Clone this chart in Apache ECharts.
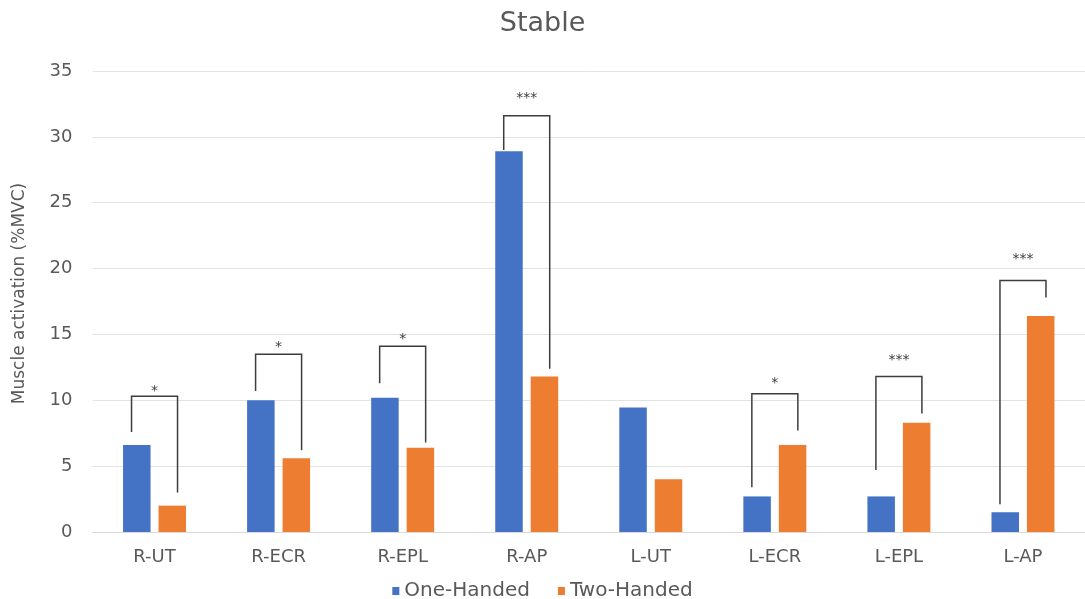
<!DOCTYPE html>
<html>
<head>
<meta charset="utf-8">
<script src="https://cdn.jsdelivr.net/npm/echarts@6/dist/echarts.min.js"></script>
<style>
html,body{margin:0;padding:0;background:#fff;}
#chart{width:1085px;height:599px;}
</style>
</head>
<body>
<div id="chart"></div>
<script>
const categories = ['R-UT','R-ECR','R-EPL','R-AP','L-UT','L-ECR','L-EPL','L-AP'];
const oneHanded = [6.6, 10.0, 10.2, 28.9, 9.45, 2.7, 2.7, 1.5];
const twoHanded = [2.0, 5.6, 6.4, 11.8, 4.0, 6.6, 8.3, 16.4];
const yTicks = [0, 5, 10, 15, 20, 25, 30, 35];

// significance brackets
const bracketCats  = ['R-UT','R-ECR','R-EPL','R-AP','L-ECR','L-EPL','L-AP'];
const bracketLeft  = [7.6, 10.7, 11.3, 29.0, 3.4, 4.7, 2.1];
const bracketRight = [3.0, 6.2, 6.8, 12.4, 7.7, 9.0, 17.8];
const bracketTop   = [10.3, 13.5, 14.1, 31.6, 10.5, 11.8, 19.1];
const starLevel    = [11.0, 14.3, 14.9, 33.2, 11.6, 13.3, 21.0];
const starText     = ['*','*','*','***','*','***','***'];

const FONT = 'DejaVu Sans';
const TXT = '#595959';

const bracketData = bracketCats.map((c, i) => [c, bracketLeft[i], bracketRight[i], bracketTop[i], starLevel[i]]);

const chart = echarts.init(document.getElementById('chart'), null, {renderer: 'canvas'});
chart.setOption({
  backgroundColor: '#ffffff',
  animation: false,
  title: {
    text: 'Stable',
    left: 'center',
    top: 10,
    padding: 0,
    textStyle: {fontFamily: FONT, fontSize: 27, fontWeight: 'normal', color: TXT}
  },
  legend: {
    data: ['One-Handed', 'Two-Handed'],
    left: 'center',
    top: 581,
    padding: 0,
    icon: 'rect',
    itemWidth: 7,
    itemHeight: 8,
    itemGap: 28,
    textStyle: {fontFamily: FONT, fontSize: 20, lineHeight: 20, color: TXT}
  },
  grid: {left: 92.5, top: 71, width: 1001, height: 461, containLabel: false},
  xAxis: {
    type: 'category',
    data: categories,
    axisLine: {lineStyle: {color: '#d9d9d9', width: 1}},
    axisTick: {show: false},
    axisLabel: {fontFamily: FONT, fontSize: 18, color: TXT, margin: 16}
  },
  yAxis: {
    type: 'value',
    min: yTicks[0],
    max: yTicks[yTicks.length - 1],
    interval: 5,
    name: 'Muscle activation (%MVC)',
    nameLocation: 'middle',
    nameGap: 64,
    nameTextStyle: {fontFamily: FONT, fontSize: 17, color: TXT, padding: [0, 0, 0, 16]},
    axisLine: {show: false},
    axisTick: {show: false},
    splitLine: {lineStyle: {color: '#e3e3e3', width: 1}},
    axisLabel: {fontFamily: FONT, fontSize: 18, color: TXT, margin: 20}
  },
  series: [
    {
      name: 'One-Handed', type: 'bar', data: oneHanded,
      barWidth: 27.5, barGap: '29%',
      itemStyle: {color: '#4472C4'}
    },
    {
      name: 'Two-Handed', type: 'bar', data: twoHanded,
      barWidth: 27.5,
      itemStyle: {color: '#ED7D31'}
    },
    {
      name: 'sig', type: 'custom', data: bracketData,
      encode: {x: 0, y: [1, 2, 3, 4]},
      z: 5,
      silent: true,
      renderItem: function (params, api) {
        const idx = api.value(0);
        const xc = api.coord([idx, 0])[0];
        const yL = api.coord([idx, api.value(1)])[1];
        const yR = api.coord([idx, api.value(2)])[1];
        const yT = api.coord([idx, api.value(3)])[1];
        const yS = api.coord([idx, api.value(4)])[1];
        const xl = xc - 23, xr = xc + 23;
        return {
          type: 'group',
          children: [
            {
              type: 'polyline',
              shape: {points: [[xl, yL], [xl, yT], [xr, yT], [xr, yR]]},
              style: {stroke: '#3d3d3d', lineWidth: 1.5, fill: null}
            },
            {
              type: 'text',
              x: xc, y: yS + 4,
              style: {text: starText[params.dataIndex], fill: '#3d3d3d', font: '14px ' + FONT, align: 'center', verticalAlign: 'middle'}
            }
          ]
        };
      }
    }
  ]
});
</script>
</body>
</html>
